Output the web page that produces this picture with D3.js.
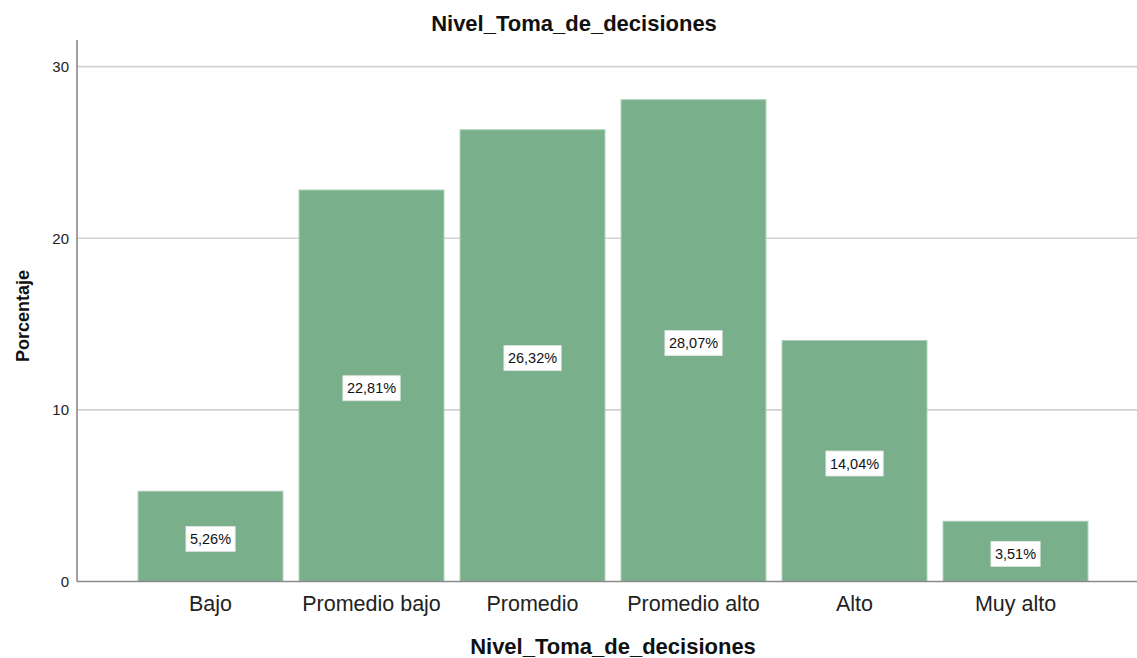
<!DOCTYPE html>
<html>
<head>
<meta charset="utf-8">
<script src="https://cdn.jsdelivr.net/npm/d3@7"></script>
<style>
  body { margin: 0; background: #fff; }
  text { font-family: "Liberation Sans", Arial, sans-serif; }
</style>
</head>
<body>
<svg id="chart"></svg>
<script>
// values
const categories = ["Bajo", "Promedio bajo", "Promedio", "Promedio alto", "Alto", "Muy alto"];
const percents = [5.26, 22.81, 26.32, 28.07, 14.04, 3.51];
const yTicks = [0, 10, 20, 30];
const chartTitle = "Nivel_Toma_de_decisiones";
const xTitle = "Nivel_Toma_de_decisiones";
const yTitle = "Porcentaje";

const width = 1137, height = 658;
const axisLeft = 77, axisRight = 1137;
const plotTop = 40, plotBottom = 581.5;

const svg = d3.select("#chart")
    .attr("width", width)
    .attr("height", height);

const x = d3.scaleBand()
    .domain(categories)
    .range([130, 1096])
    .paddingInner(0.1)
    .paddingOuter(0.05);

const y = d3.scaleLinear()
    .domain([0, 31.55])
    .range([plotBottom, plotTop]);

// gridlines
svg.append("g")
    .selectAll("line")
    .data(yTicks.filter(d => d > 0))
    .join("line")
    .attr("x1", axisLeft)
    .attr("x2", axisRight)
    .attr("y1", d => y(d))
    .attr("y2", d => y(d))
    .attr("stroke", "#d2d2d2")
    .attr("stroke-width", 1.6);

// bars
svg.append("g")
    .selectAll("rect")
    .data(percents)
    .join("rect")
    .attr("x", (d, i) => x(categories[i]))
    .attr("y", d => y(d))
    .attr("width", x.bandwidth())
    .attr("height", d => y(0) - y(d))
    .attr("fill", "#79b08b")
    .attr("stroke", "#a9cfb4")
    .attr("stroke-width", 1);

// y axis (labels only, no tick marks)
const yAxis = svg.append("g")
    .attr("transform", `translate(${axisLeft},0)`)
    .call(d3.axisLeft(y).tickValues(yTicks).tickSize(0).tickPadding(8));
yAxis.select(".domain").remove();
yAxis.selectAll("text")
    .style("font-size", "15px")
    .attr("fill", "#222");

// x axis
const xAxis = svg.append("g")
    .attr("transform", `translate(0,${plotBottom})`)
    .call(d3.axisBottom(x).tickSize(0).tickPadding(14));
xAxis.select(".domain").remove();
xAxis.selectAll("text")
    .style("font-size", "21.5px")
    .attr("fill", "#222");

// axis lines
svg.append("line")
    .attr("x1", axisLeft).attr("x2", axisLeft)
    .attr("y1", plotTop).attr("y2", plotBottom)
    .attr("stroke", "#8a8a8a").attr("stroke-width", 1.6);
svg.append("line")
    .attr("x1", axisLeft).attr("x2", axisRight)
    .attr("y1", plotBottom).attr("y2", plotBottom)
    .attr("stroke", "#8a8a8a").attr("stroke-width", 1.6);

// value labels in white boxes
const fmt = d => d3.format(".2f")(d).replace(".", ",") + "%";
const labels = svg.append("g")
    .selectAll("g")
    .data(percents)
    .join("g")
    .attr("transform", (d, i) =>
        `translate(${x(categories[i]) + x.bandwidth() / 2}, ${(y(d) + y(0)) / 2 + 2.5})`);

labels.append("text")
    .attr("text-anchor", "middle")
    .attr("dy", "0.36em")
    .style("font-size", "14.5px")
    .attr("fill", "#111")
    .text(fmt);

labels.insert("rect", "text")
    .each(function () {
        const bb = this.parentNode.querySelector("text").getBBox();
        d3.select(this)
            .attr("x", bb.x - 4)
            .attr("y", -12.5)
            .attr("width", bb.width + 8)
            .attr("height", 25);
    })
    .attr("fill", "#fff")
    .attr("stroke", "#e4e4e4")
    .attr("stroke-width", 0.8);

// titles
svg.append("text")
    .attr("x", 574)
    .attr("y", 31)
    .attr("text-anchor", "middle")
    .style("font-size", "22px")
    .style("font-weight", "bold")
    .attr("fill", "#111")
    .text(chartTitle);

svg.append("text")
    .attr("x", (x.range()[0] + x.range()[1]) / 2)
    .attr("y", 654)
    .attr("text-anchor", "middle")
    .style("font-size", "22px")
    .style("font-weight", "bold")
    .attr("fill", "#111")
    .text(xTitle);

svg.append("text")
    .attr("transform", "translate(29,316) rotate(-90)")
    .attr("text-anchor", "middle")
    .style("font-size", "18px")
    .style("font-weight", "bold")
    .attr("fill", "#111")
    .text(yTitle);
</script>
</body>
</html>
